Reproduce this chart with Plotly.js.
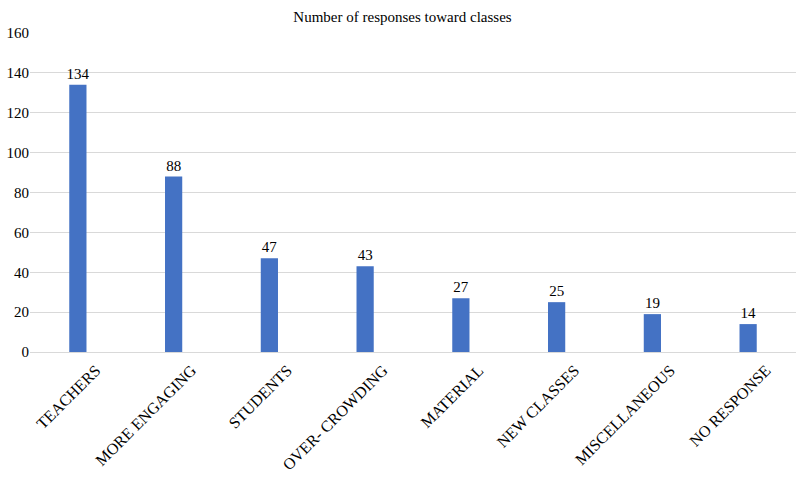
<!DOCTYPE html>
<html>
<head>
<meta charset="utf-8">
<script src="https://cdn.plot.ly/plotly-3.0.1.min.js"></script>
<style>html,body{margin:0;padding:0;background:#fff;}#chart{width:805px;height:477px;}</style>
</head>
<body>
<div id="chart"></div>
<script>
const categories = ["TEACHERS", "MORE ENGAGING", "STUDENTS", "OVER- CROWDING", "MATERIAL", "NEW CLASSES", "MISCELLANEOUS", "NO RESPONSE"];
const responses = [134, 88, 47, 43, 27, 25, 19, 14];
const yTicks = [0, 20, 40, 60, 80, 100, 120, 140, 160];

const font = "'Liberation Serif', 'Times New Roman', serif";

Plotly.newPlot("chart", [{
  type: "bar",
  x: categories,
  y: responses,
  text: responses.map(String),
  textposition: "outside",
  constraintext: "none",
  cliponaxis: false,
  textfont: {family: font, size: 15, color: "#000"},
  marker: {color: "#4472C4"},
  width: 0.18,
  hoverinfo: "x+y"
}], {
  width: 805,
  height: 477,
  margin: {l: 30, r: 9, t: 33, b: 125},
  paper_bgcolor: "#fff",
  plot_bgcolor: "#fff",
  font: {family: font, size: 15, color: "#000"},
  title: {text: "Number of responses toward classes", font: {family: font, size: 15, color: "#000"}, x: 0.5, xanchor: "center", y: 0.965, yanchor: "middle"},
  showlegend: false,
  xaxis: {
    tickangle: -45,
    tickfont: {family: font, size: 16, color: "#000"},
    showgrid: false,
    showline: false,
    ticks: "",
    ticklabelstandoff: 5,
    ticklabelshift: 18,
    fixedrange: true
  },
  yaxis: {
    range: [0, 160],
    tickvals: yTicks,
    ticktext: yTicks.map(String),
    tickfont: {family: font, size: 15, color: "#000"},
    showgrid: true,
    gridcolor: "#d9d9d9",
    gridwidth: 1,
    zeroline: true,
    zerolinecolor: "#d9d9d9",
    zerolinewidth: 1,
    showline: false,
    ticks: "",
    ticklen: 0,
    fixedrange: true
  }
}, {displayModeBar: false, staticPlot: true});
</script>
</body>
</html>
